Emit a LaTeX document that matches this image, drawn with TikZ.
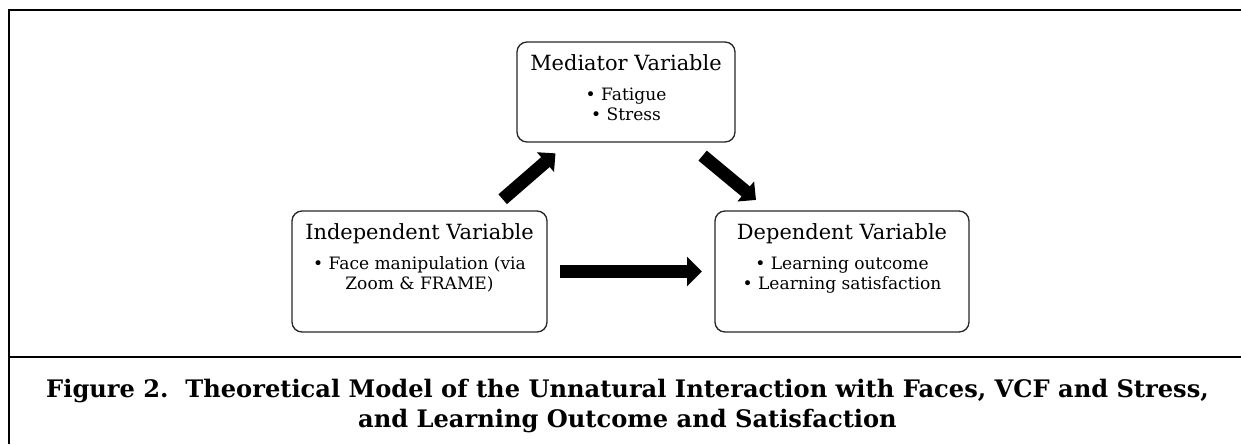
\documentclass[tikz,border=0pt]{standalone}
\usepackage{fontspec}
\setmainfont{DejaVu Serif}
\usepackage{tikz}
\usetikzlibrary{arrows.meta,positioning}

\begin{document}
\begin{tikzpicture}[
    x=0.75pt, y=-0.75pt,
    varbox/.style={rectangle, draw=black!85, line width=1pt, rounded corners=7.5pt, outer sep=0pt},
    vartitle/.style={inner sep=0pt, font=\fontsize{15.7}{18}\selectfont},
    varitems/.style={inner sep=0pt, align=center, font=\fontsize{12.8}{14.6}\selectfont},
    blockarrow/.style={-{Triangle[length=10pt, width=19pt]}, line width=9.75pt},
    frame/.style={line width=1.5pt},
    caption/.style={align=center, inner sep=0pt, font=\fontsize{18.1}{22.5}\selectfont\bfseries},
]
    \useasboundingbox (0,0) rectangle (1241,444);

    % Frame
    \draw[frame] (9,444) -- (9,10) -- (1241,10);
    \draw[frame] (9,357) -- (1241,357);

    % Mediator
    \node[varbox, minimum width=163.5pt, minimum height=75pt] (med) at (626,92) {};
    \node[vartitle, anchor=base] (medtitle) at ([yshift=-21.5pt]med.north) {Mediator Variable};
    \node[varitems, below=12.5pt of medtitle.base] (meditems) {• Fatigue\\[1pt]• Stress};

    % Independent
    \node[varbox, minimum width=191.25pt, minimum height=90.75pt] (indep) at (419.5,271.5) {};
    \node[vartitle, anchor=base] (indeptitle) at ([yshift=-21.5pt]indep.north) {Independent Variable};
    \node[varitems, below=12.5pt of indeptitle.base] (indepitems) {• Face manipulation (via\\Zoom \& FRAME)};

    % Dependent
    \node[varbox, minimum width=190.5pt, minimum height=90.75pt] (dep) at (842,271.5) {};
    \node[vartitle, anchor=base] (deptitle) at ([yshift=-21.5pt]dep.north) {Dependent Variable};
    \node[varitems, below=12.5pt of deptitle.base] (depitems) {• Learning outcome\\[1pt]• Learning satisfaction};

    % Arrows
    \draw[blockarrow, shorten <=13.5pt, shorten >=13pt] (indep) -- (med);
    \draw[blockarrow, shorten <=16pt, shorten >=13pt] (med) -- (dep);
    \draw[blockarrow, -{Triangle[length=11.25pt, width=21.75pt]}, shorten <=9.75pt, shorten >=9.75pt] (indep) -- (dep);

    % Caption
    \node[caption] (caption) at (627.5,406) {Figure 2.\ \ Theoretical Model of the Unnatural Interaction with Faces, VCF and Stress,\\and Learning Outcome and Satisfaction};
\end{tikzpicture}
\end{document}
